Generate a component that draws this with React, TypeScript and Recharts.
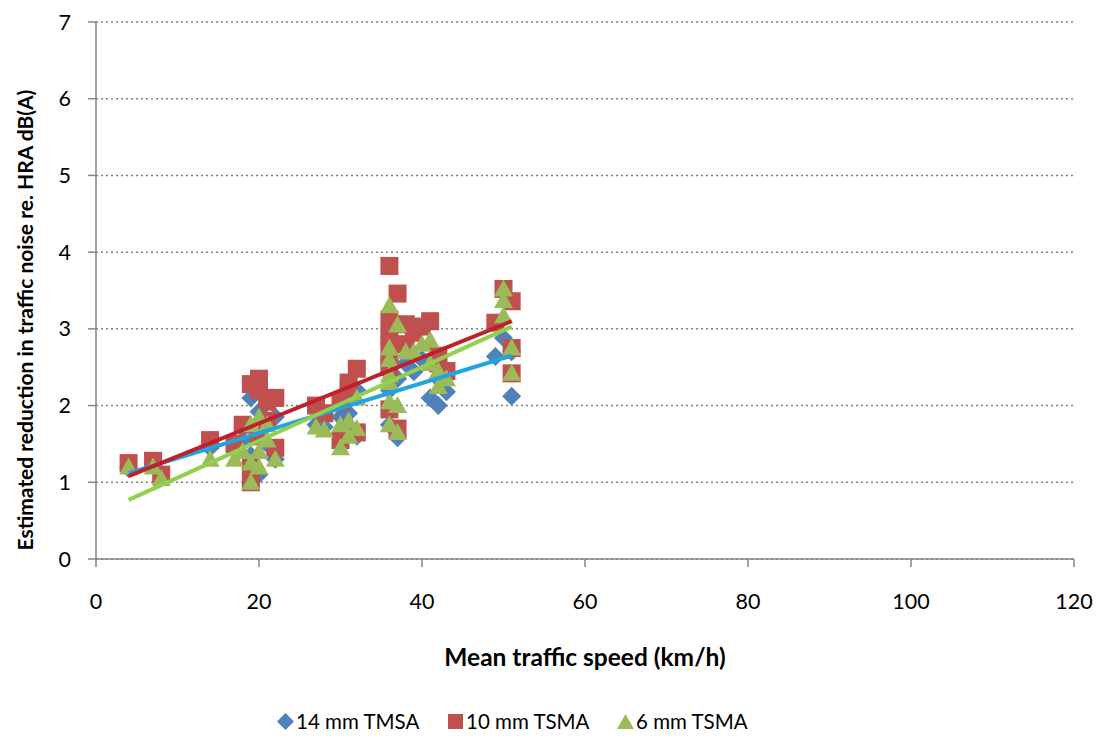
import React from 'react';
import { ScatterChart, Scatter, XAxis, YAxis, CartesianGrid, Legend } from 'recharts';

const xTicks = [0, 20, 40, 60, 80, 100, 120];
const yTicks = [0, 1, 2, 3, 4, 5, 6, 7];

const series14 = [
  [4, 1.18], [14, 1.45], [17, 1.5], [18, 1.55], [19, 2.1], [19, 1.35], [20, 1.92], [20, 1.1],
  [21, 1.75], [21, 1.5], [22, 1.85], [22, 1.3], [27, 1.75], [28, 1.72], [30, 1.6], [30, 1.85],
  [31, 1.9], [31, 1.65], [32, 2.2], [32, 1.6], [36, 2.9], [36, 2.55], [36, 2.2], [36, 1.75],
  [37, 2.35], [37, 1.58], [38, 2.55], [39, 2.44], [40, 2.6], [41, 2.1], [42, 2.0], [42, 2.35],
  [43, 2.18], [49, 2.64], [50, 2.88], [51, 2.7], [51, 2.12],
].map(([x, y]) => ({ x, y }));

const series10 = [
  [4, 1.25], [7, 1.28], [8, 1.1], [14, 1.55], [17, 1.5], [18, 1.75], [19, 2.28], [19, 1.0],
  [19, 1.2], [20, 2.35], [20, 2.2], [20, 1.6], [21, 2.05], [21, 1.8], [22, 2.1], [22, 1.45],
  [27, 2.0], [28, 1.9], [30, 1.55], [30, 2.05], [31, 2.3], [31, 2.2], [32, 2.48], [32, 1.65],
  [36, 3.82], [37, 3.46], [36, 3.12], [36, 2.9], [36, 2.7], [36, 2.5], [36, 1.95], [37, 1.7],
  [38, 3.06], [38, 2.8], [39, 2.95], [40, 3.03], [41, 3.1], [42, 2.65], [42, 2.55], [43, 2.45],
  [49, 3.08], [50, 3.52], [51, 3.36], [51, 2.75], [51, 2.42],
].map(([x, y]) => ({ x, y }));

const series6 = [
  [4, 1.2], [7, 1.2], [8, 1.05], [14, 1.3], [17, 1.3], [18, 1.4], [19, 1.25], [19, 1.0],
  [19, 1.75], [20, 1.85], [20, 1.4], [20, 1.2], [21, 1.75], [21, 1.55], [22, 1.3], [27, 1.72],
  [28, 1.68], [30, 1.45], [30, 1.75], [31, 1.6], [31, 1.8], [32, 2.1], [32, 1.7], [36, 3.3],
  [37, 3.05], [36, 2.75], [36, 2.6], [36, 2.4], [36, 2.3], [36, 2.05], [36, 1.75], [37, 2.0],
  [37, 1.65], [38, 2.7], [39, 2.7], [40, 2.8], [41, 2.85], [41, 2.55], [42, 2.45], [42, 2.25],
  [43, 2.35], [50, 3.52], [50, 3.37], [50, 3.17], [51, 2.75], [51, 2.42],
].map(([x, y]) => ({ x, y }));

const trend14 = [{ x: 4, y: 1.12 }, { x: 51, y: 2.65 }];
const trend10 = [{ x: 4, y: 1.08 }, { x: 51, y: 3.1 }];
const trend6 = [{ x: 4, y: 0.77 }, { x: 51, y: 3.03 }];

const BLUE = '#4F81BD';
const RED = '#C0504D';
const GREEN = '#9BBB59';
const FONT = 'Lato, "Open Sans", sans-serif';

const Diamond = (p: any) => {
  const { cx, cy } = p;
  const r = 9.5;
  return <polygon points={`${cx},${cy - r} ${cx + r},${cy} ${cx},${cy + r} ${cx - r},${cy}`} fill={BLUE} />;
};
const Square = (p: any) => {
  const { cx, cy } = p;
  const h = 9;
  return <rect x={cx - h} y={cy - h} width={2 * h} height={2 * h} fill={RED} />;
};
const Triangle = (p: any) => {
  const { cx, cy } = p;
  return <polygon points={`${cx},${cy - 9.5} ${cx + 9.5},${cy + 7.5} ${cx - 9.5},${cy + 7.5}`} fill={GREEN} />;
};
const NoShape = () => <g />;

const legendItems = [
  { label: '14 mm TMSA', kind: 'diamond' },
  { label: '10 mm TSMA', kind: 'square' },
  { label: '6 mm TSMA', kind: 'triangle' },
];

const renderLegend = () => (
  <div style={{ display: 'flex', paddingLeft: 277, height: 30, alignItems: 'center', fontFamily: FONT, fontSize: 20.5, color: '#000' }}>
    {legendItems.map((it, i) => (
      <div key={i} style={{ display: 'flex', alignItems: 'center', width: 170 }}>
        <svg width={17} height={17} style={{ marginRight: 2 }}>
          {it.kind === 'diamond' && <polygon points="8.5,0 17,8.5 8.5,17 0,8.5" fill={BLUE} />}
          {it.kind === 'square' && <rect x={1} y={1} width={15} height={15} fill={RED} />}
          {it.kind === 'triangle' && <polygon points="8.5,1 17,16 0,16" fill={GREEN} />}
        </svg>
        <span>{it.label}</span>
      </div>
    ))}
  </div>
);

export default function App() {
  return (
    <div style={{ position: 'absolute', left: 0, top: 0, background: '#fff' }}>
      <ScatterChart width={1098} height={738} margin={{ top: 22, right: 24, bottom: 47, left: 0 }}>
        <CartesianGrid vertical={false} stroke="#808080" strokeDasharray="2 3" strokeWidth={1.5} />
        <XAxis
          type="number"
          dataKey="x"
          domain={[0, 120]}
          ticks={xTicks}
          height={102}
          axisLine={{ stroke: '#868686', strokeWidth: 1.5 }}
          tickLine={{ stroke: '#868686', strokeWidth: 1.5 }}
          tickSize={8}
          tick={{ fill: '#000', fontSize: 21.5, fontFamily: FONT }}
          tickMargin={27}
          label={{
            content: () => (
              <text x={585} y={666} textAnchor="middle" fontFamily={FONT} fontWeight="bold" fontSize={24.5} fill="#000">
                Mean traffic speed (km/h)
              </text>
            ),
          }}
        />
        <YAxis
          type="number"
          dataKey="y"
          domain={[0, 7]}
          ticks={yTicks}
          width={96}
          axisLine={{ stroke: '#868686', strokeWidth: 1.5 }}
          tickLine={{ stroke: '#868686', strokeWidth: 1.5 }}
          tickSize={8}
          tickMargin={17}
          tick={{ fill: '#000', fontSize: 21.5, fontFamily: FONT }}
          label={{
            content: () => (
              <text x={33} y={320} transform="rotate(-90 33 320)" textAnchor="middle" fontFamily={FONT} fontWeight="bold" fontSize={21} fill="#000">
                Estimated reduction in traffic noise re. HRA dB(A)
              </text>
            ),
          }}
        />
        <Legend verticalAlign="bottom" content={renderLegend} wrapperStyle={{ left: 0, bottom: 2, width: 1098, height: 30 }} />
        <Scatter name="14 mm TMSA" data={series14} shape={Diamond} isAnimationActive={false} />
        <Scatter name="10 mm TSMA" data={series10} shape={Square} isAnimationActive={false} />
        <Scatter name="6 mm TSMA" data={series6} shape={Triangle} isAnimationActive={false} />
        <Scatter data={trend14} line={{ stroke: '#1FA6E0', strokeWidth: 4 }} shape={NoShape} legendType="none" isAnimationActive={false} />
        <Scatter data={trend10} line={{ stroke: '#C0202A', strokeWidth: 4 }} shape={NoShape} legendType="none" isAnimationActive={false} />
        <Scatter data={trend6} line={{ stroke: '#92D050', strokeWidth: 4 }} shape={NoShape} legendType="none" isAnimationActive={false} />
      </ScatterChart>
    </div>
  );
}
